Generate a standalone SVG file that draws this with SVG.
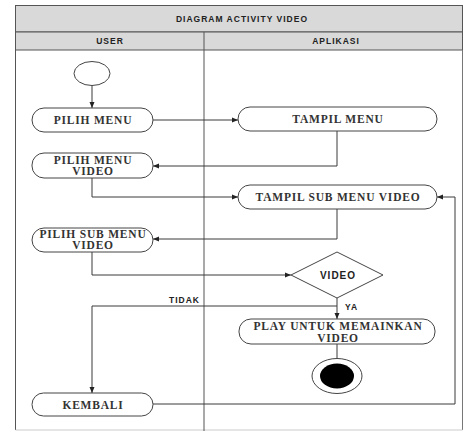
<svg xmlns="http://www.w3.org/2000/svg" width="464" height="431" viewBox="0 0 464 431">
<style>
.frame{fill:none;stroke:#555;stroke-width:1}
.hdr{fill:#d9d9d9;stroke:#555;stroke-width:1}
.ht{font-family:"Liberation Sans",Arial,sans-serif;font-weight:bold;font-size:8.5px;letter-spacing:1px;fill:#222;text-anchor:middle}
.box{fill:#fff;stroke:#444;stroke-width:1}
.nt{font-family:"Liberation Serif","Times New Roman",serif;font-weight:bold;font-size:11.5px;letter-spacing:0.8px;fill:#333;text-anchor:middle}
.lbl{font-family:"Liberation Sans",Arial,sans-serif;font-weight:bold;font-size:8.5px;letter-spacing:1px;fill:#222}
.dt{font-family:"Liberation Sans",Arial,sans-serif;font-weight:bold;font-size:10px;letter-spacing:1px;fill:#222;text-anchor:middle}
.ln{fill:none;stroke:#3a3a3a;stroke-width:1;marker-end:url(#ah)}
.ln2{fill:none;stroke:#3a3a3a;stroke-width:1}
</style>
<defs>
<marker id="ah" markerUnits="userSpaceOnUse" markerWidth="7" markerHeight="6" refX="6" refY="3" orient="auto">
<path d="M0,0.5 L6,3 L0,5.5 Z" fill="#222"/>
</marker>
</defs>
<rect width="464" height="431" fill="#fff"/>
<g id="frame">
<rect class="hdr" x="15.5" y="5.5" width="447" height="26.5"/>
<rect class="hdr" x="15.5" y="32" width="447" height="18"/>
<line x1="15.5" y1="50" x2="15.5" y2="430" stroke="#555"/>
<line x1="462.5" y1="50" x2="462.5" y2="430" stroke="#777"/>
<line x1="15.5" y1="430" x2="462.5" y2="430" stroke="#ccc"/>
<line x1="204" y1="32" x2="204" y2="431" stroke="#555"/>
<text class="ht" x="242" y="21.5">DIAGRAM ACTIVITY VIDEO</text>
<text class="ht" x="110" y="44">USER</text>
<text class="ht" x="336" y="44">APLIKASI</text>
</g>
<g id="connectors">
<path class="ln" d="M92 85.5 V108"/>
<path class="ln" d="M153 120 H238"/>
<path class="ln" d="M337 131 V166 H153"/>
<path class="ln" d="M92 178 V197 H238"/>
<path class="ln" d="M337 209 V239 H153"/>
<path class="ln" d="M92 252 V275 H291"/>
<path class="ln" d="M337 298 V319"/>
<path class="ln" d="M337 306 H92 V393"/>
<path class="ln2" d="M337 344 V358.5"/>
<path class="ln" d="M153 404 H455 V197 H437"/>
<text class="lbl" x="169" y="303">TIDAK</text>
<text class="lbl" x="345" y="310">YA</text>
</g>
<g id="start">
<ellipse class="box" cx="92" cy="73.5" rx="18" ry="12"/>
</g>
<g id="pilih-menu">
<rect class="box" x="32" y="108" width="121" height="24" rx="12"/>
<text class="nt" x="93" y="124">PILIH MENU</text>
</g>
<g id="tampil-menu">
<rect class="box" x="238" y="107" width="199" height="24" rx="12"/>
<text class="nt" x="338" y="123">TAMPIL MENU</text>
</g>
<g id="pilih-menu-video">
<rect class="box" x="32" y="153" width="121" height="25" rx="12"/>
<text class="nt" x="93" y="164">PILIH MENU</text>
<text class="nt" x="93" y="175">VIDEO</text>
</g>
<g id="tampil-sub-menu-video">
<rect class="box" x="238" y="185" width="199" height="24" rx="12"/>
<text class="nt" x="338" y="201">TAMPIL SUB MENU VIDEO</text>
</g>
<g id="pilih-sub-menu-video">
<rect class="box" x="32" y="228" width="121" height="24" rx="12"/>
<text class="nt" x="93" y="238">PILIH SUB MENU</text>
<text class="nt" x="93" y="249">VIDEO</text>
</g>
<g id="decision">
<polygon class="box" points="291,275 337,252 383,275 337,298"/>
<text class="dt" x="338" y="278.5">VIDEO</text>
</g>
<g id="play">
<rect class="box" x="239" y="319" width="196" height="25" rx="12"/>
<text class="nt" x="338" y="330">PLAY UNTUK MEMAINKAN</text>
<text class="nt" x="338" y="342">VIDEO</text>
</g>
<g id="end">
<ellipse class="box" cx="337" cy="376" rx="25" ry="17.5"/>
<ellipse cx="337" cy="376" rx="17" ry="12.5" fill="#000"/>
</g>
<g id="kembali">
<rect class="box" x="32" y="393" width="121" height="23" rx="11.5"/>
<text class="nt" x="93" y="408.5">KEMBALI</text>
</g>
</svg>
